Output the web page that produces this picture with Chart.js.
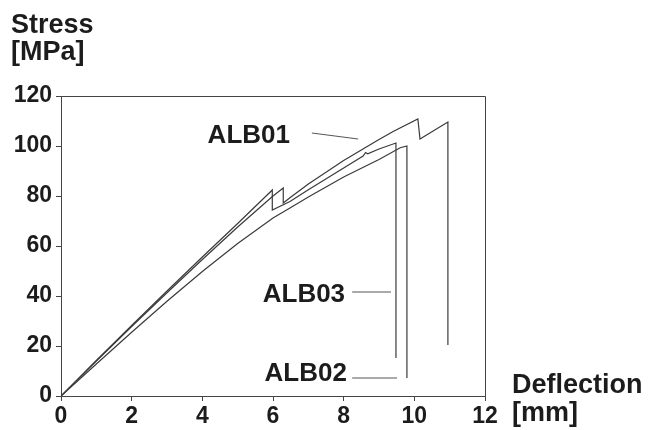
<!DOCTYPE html>
<html>
<head>
<meta charset="utf-8">
<script src="https://cdn.jsdelivr.net/npm/chart.js@4"></script>
<style>
  html, body { margin: 0; padding: 0; background: #fff; }
  #wrap { width: 648px; height: 430px; }
</style>
</head>
<body>
<div id="wrap"><canvas id="myChart"></canvas></div>
<script>
// tick labels
var xTicks = [0, 2, 4, 6, 8, 10, 12];
var yTicks = [0, 20, 40, 60, 80, 100, 120];

// deflection [mm] / stress [MPa]
var alb01X = [0, 1, 2, 3, 4, 5, 6, 6.29, 6.29, 6.48, 7, 8, 9, 9.4, 10.1, 10.16, 10.95, 10.95];
var alb01Y = [0, 14.0, 27.8, 41.3, 54.6, 67.6, 80, 83.2, 77.2, 79.3, 84.8, 94.2, 102.6, 105.8, 110.8, 102.8, 109.6, 20.4];

var alb02X = [0, 1, 2, 3, 4, 5, 6, 6.48, 7, 8, 9, 9.6, 9.79, 9.79];
var alb02Y = [0, 12.8, 25.5, 37.9, 49.8, 61, 71.2, 75.2, 79.6, 87.6, 94.6, 99.3, 100, 7.2];

var alb03X = [0, 1, 2, 3, 4, 5, 5.98, 5.98, 6.48, 7, 8, 8.55, 8.62, 8.68, 9, 9.48, 9.48];
var alb03Y = [0, 14.2, 28.2, 42, 55.6, 69, 82.4, 74.4, 77.8, 82.5, 91.2, 96.0, 97.4, 96.9, 98.8, 101.2, 15.2];

// curve names and where their labels / pointer lines sit (data units)
var names = ['ALB01', 'ALB02', 'ALB03'];
var labelAt = [[6.48, 101.2], [8.09, 6], [8.04, 37.6]];
var pointerFrom = [[7.10, 105.2], [8.24, 7.2], [8.24, 41.6]];
var pointerTo = [[8.41, 102.8], [9.51, 7.2], [9.34, 41.6]];

function pts(xs, ys) {
  var out = [];
  for (var i = 0; i < xs.length; i++) out.push({ x: xs[i], y: ys[i] });
  return out;
}

var FONT = "'Liberation Sans', Arial, sans-serif";
var INK = '#1c1c1c';

var extras = {
  id: 'extras',
  afterDraw: function(chart) {
    var ctx = chart.ctx, a = chart.chartArea;
    var sx = chart.scales.x, sy = chart.scales.y;
    ctx.save();
    // frame top / right
    ctx.strokeStyle = '#444';
    ctx.lineWidth = 1;
    ctx.beginPath();
    ctx.moveTo(a.left, a.top + 0.5);
    ctx.lineTo(a.right + 0.5, a.top + 0.5);
    ctx.lineTo(a.right + 0.5, a.bottom);
    ctx.stroke();

    // axis titles
    ctx.fillStyle = INK;
    ctx.font = 'bold 27px ' + FONT;
    ctx.textAlign = 'left';
    ctx.textBaseline = 'alphabetic';
    ctx.fillText('Stress', 11, 33);
    ctx.fillText('[MPa]', 11, 60);
    ctx.fillText('Deflection', 512, 393);
    ctx.fillText('[mm]', 512, 421);

    // series labels with pointer lines
    ctx.textAlign = 'right';
    ctx.font = 'bold 26px ' + FONT;
    ctx.strokeStyle = '#555';
    for (var i = 0; i < names.length; i++) {
      ctx.fillText(names[i], sx.getPixelForValue(labelAt[i][0]), sy.getPixelForValue(labelAt[i][1]));
      ctx.beginPath();
      ctx.moveTo(sx.getPixelForValue(pointerFrom[i][0]), sy.getPixelForValue(pointerFrom[i][1]));
      ctx.lineTo(sx.getPixelForValue(pointerTo[i][0]), sy.getPixelForValue(pointerTo[i][1]));
      ctx.stroke();
    }
    ctx.restore();
  }
};

var series = [alb01X, alb02X, alb03X].map(function(xs, i) {
  var ys = [alb01Y, alb02Y, alb03Y][i];
  return {
    label: names[i],
    data: pts(xs, ys),
    borderColor: '#3a3a3a',
    borderWidth: 1.2,
    pointRadius: 0,
    fill: false,
    tension: 0
  };
});

var ctx = document.getElementById('myChart').getContext('2d');
var chart = new Chart(ctx, {
  type: 'scatter',
  data: { datasets: series },
  options: {
    responsive: true,
    maintainAspectRatio: false,
    animation: false,
    showLine: true,
    layout: { padding: { top: 96, right: 163, left: 0, bottom: 0 } },
    plugins: { legend: { display: false }, tooltip: { enabled: false } },
    scales: {
      x: {
        type: 'linear', min: 0, max: 12,
        afterBuildTicks: function(s) { s.ticks = xTicks.map(function(v) { return { value: v }; }); },
        afterFit: function(s) { s.height = 34; },
        grid: { drawOnChartArea: false, drawTicks: true, tickLength: 5, color: '#444' },
        border: { display: true, color: '#444', width: 1 },
        ticks: { color: INK, padding: 2, maxRotation: 0, font: { family: FONT, weight: 'bold', size: 23 } }
      },
      y: {
        type: 'linear', min: 0, max: 120,
        afterBuildTicks: function(s) { s.ticks = yTicks.map(function(v) { return { value: v }; }); },
        afterFit: function(s) { s.width = 61; },
        grid: { drawOnChartArea: false, drawTicks: true, tickLength: 5, color: '#444' },
        border: { display: true, color: '#444', width: 1 },
        ticks: { color: INK, padding: 4, font: { family: FONT, weight: 'bold', size: 23 } }
      }
    }
  },
  plugins: [extras]
});
</script>
</body>
</html>
